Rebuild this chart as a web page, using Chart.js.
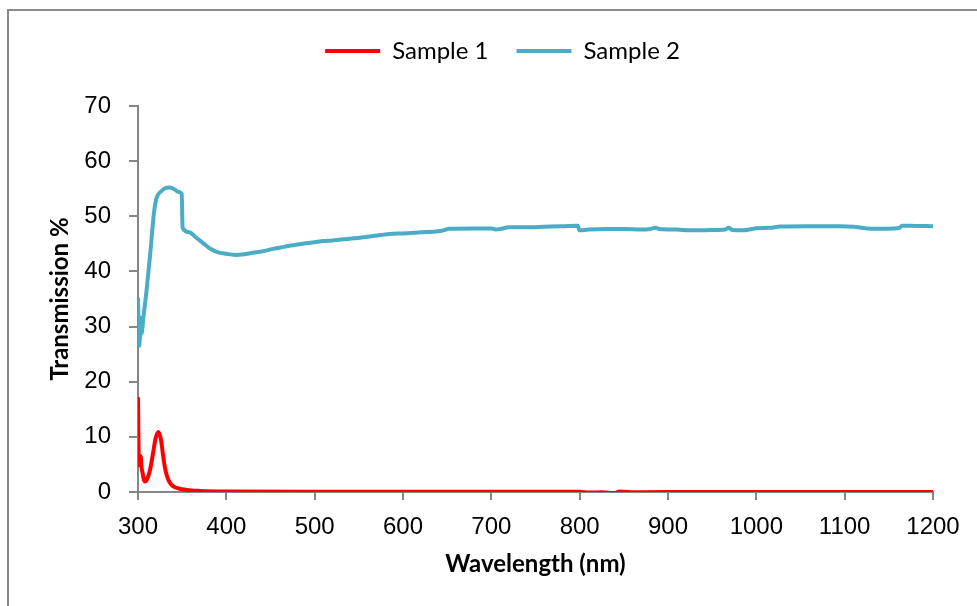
<!DOCTYPE html>
<html>
<head>
<meta charset="utf-8">
<script src="https://cdn.jsdelivr.net/npm/chart.js@4/dist/chart.umd.min.js"></script>
<style>
  body { margin: 0; background: #fff; }
  canvas { display: block; }
</style>
</head>
<body>
<canvas id="spectrumChart" width="977" height="606"></canvas>
<script>
// values (wavelength in nm, transmission in %)
var sample1Wavelength = [300, 300.5, 301, 302, 303, 304, 305.3, 306.5, 308, 310,
  313.6, 317, 320, 323, 326, 328.6, 331, 334.3, 338, 342,
  348, 355, 370, 400, 500, 600, 700, 800, 810, 825,
  840, 845, 860, 900, 1000, 1100, 1200];
var sample1Transmission = [17.2, 10, 4.9, 5.2, 6.5, 4.5, 3.4, 2.3, 1.9, 2.2,
  4.0, 7.0, 9.8, 10.9, 9.5, 6.4, 4.0, 2.2, 1.3, 0.85,
  0.55, 0.36, 0.2, 0.1, 0.05, 0.05, 0.05, 0.05, -0.1, -0.05,
  -0.2, 0.1, -0.05, 0, 0, 0, 0];

var sample2Wavelength = [300, 300.7, 301.5, 302.5, 303, 304, 306, 310, 314, 318,
  321, 326, 331, 336, 341, 346, 349.5, 350.5, 358, 366,
  374, 382, 390, 400, 410, 420, 430, 440, 450, 460,
  470, 480, 490, 500, 510, 520, 530, 545, 560, 575,
  585, 600, 620, 640, 647, 652, 680, 700, 705, 710,
  720, 740, 760, 780, 798, 799.5, 810, 830, 850, 870,
  880, 886, 890, 910, 925, 950, 965, 969, 973, 985,
  995, 1000, 1015, 1027, 1060, 1095, 1110, 1125, 1140, 1155,
  1162, 1165, 1180, 1200];
var sample2Transmission = [35.2, 30, 26.5, 29.5, 31.6, 28.7, 31.5, 37, 43.5, 50.5,
  53.3, 54.5, 55.1, 55.2, 54.9, 54.4, 54.0, 47.9, 47.1, 46.1,
  45.1, 44.1, 43.5, 43.2, 43.0, 43.1, 43.4, 43.6, 44.0, 44.3,
  44.6, 44.9, 45.1, 45.3, 45.5, 45.6, 45.8, 46.0, 46.3, 46.6,
  46.8, 46.9, 47.1, 47.3, 47.5, 47.75, 47.8, 47.8, 47.6, 47.7,
  48.0, 48.0, 48.1, 48.2, 48.3, 47.45, 47.6, 47.7, 47.7, 47.6,
  47.7, 47.9, 47.7, 47.6, 47.45, 47.5, 47.6, 47.9, 47.5, 47.45,
  47.7, 47.85, 47.9, 48.15, 48.2, 48.2, 48.1, 47.8, 47.75, 47.8,
  47.9, 48.3, 48.25, 48.2];

var seriesNames = ['Sample 1', 'Sample 2'];
var xTicks = [300, 400, 500, 600, 700, 800, 900, 1000, 1100, 1200];
var yTicks = [0, 10, 20, 30, 40, 50, 60, 70];

function toPoints(xs, ys) {
  return xs.map(function (x, i) { return { x: x, y: ys[i] }; });
}

var axisGrey = '#868686';

// white page and the grey frame round the chart
var framePlugin = {
  id: 'frame',
  beforeDraw: function (chart) {
    var ctx = chart.ctx;
    ctx.save();
    ctx.fillStyle = '#fff';
    ctx.fillRect(0, 0, chart.width, chart.height);
    ctx.strokeStyle = '#8a8a8a';
    ctx.lineWidth = 2;
    ctx.strokeRect(8, 10, chart.width + 20, chart.height + 20);
    ctx.restore();
  }
};

// more room under the legend, and the legend a little right of centre
var legendTweak = {
  id: 'legendTweak',
  beforeLayout: function (chart) {
    var lg = chart.legend;
    if (lg && !lg._tweaked) {
      var fit = lg.fit;
      lg.fit = function () {
        fit.call(this);
        this.height += 33;
      };
      lg._tweaked = true;
    }
  },
  afterLayout: function (chart) {
    chart.legend.left += 36;
    chart.legend.right += 36;
  }
};

var data = {
  datasets: [{
    label: seriesNames[0],
    data: toPoints(sample1Wavelength, sample1Transmission),
    borderColor: '#ff0000',
    backgroundColor: '#ff0000',
    borderWidth: 4,
    pointRadius: 0,
    cubicInterpolationMode: 'monotone'
  }, {
    label: seriesNames[1],
    data: toPoints(sample2Wavelength, sample2Transmission),
    borderColor: '#4bacc6',
    backgroundColor: '#4bacc6',
    borderWidth: 4,
    pointRadius: 0,
    cubicInterpolationMode: 'monotone'
  }]
};

var options = {
  responsive: false,
  animation: false,
  layout: { padding: { top: 11, left: 0, right: 44, bottom: 0 } },
  plugins: {
    tooltip: { enabled: false },
    legend: {
      position: 'top',
      labels: {
        boxWidth: 55,
        boxHeight: 4,
        padding: 28,
        color: '#000',
        font: { family: 'Lato', size: 24 },
        generateLabels: function (chart) {
          var items = Chart.defaults.plugins.legend.labels.generateLabels(chart);
          items.forEach(function (it) { it.lineWidth = 0; });
          return items;
        }
      }
    }
  },
  scales: {
    x: {
      type: 'linear',
      min: 300,
      max: 1200,
      afterBuildTicks: function (scale) {
        scale.ticks = xTicks.map(function (v) { return { value: v }; });
      },
      afterFit: function (scale) { scale.height = 114; },
      grid: { drawOnChartArea: false, color: axisGrey, tickLength: 8, lineWidth: 2 },
      border: { color: axisGrey, width: 2 },
      ticks: {
        color: '#000',
        padding: 13,
        maxRotation: 0,
        font: { family: 'Liberation Sans', size: 24 },
        callback: function (v) { return String(v); }
      },
      title: {
        display: true,
        text: 'Wavelength (nm)',
        color: '#000',
        font: { family: 'Lato', size: 24, weight: 'bold' },
        padding: { top: 0, bottom: 27 }
      }
    },
    y: {
      min: 0,
      max: 70,
      afterBuildTicks: function (scale) {
        scale.ticks = yTicks.map(function (v) { return { value: v }; });
      },
      afterFit: function (scale) { scale.width = 138; },
      grid: { drawOnChartArea: false, color: axisGrey, tickLength: 9, lineWidth: 2 },
      border: { color: axisGrey, width: 2 },
      ticks: {
        color: '#000',
        padding: 18,
        font: { family: 'Liberation Sans', size: 24 },
        callback: function (v) { return String(v); }
      },
      title: {
        display: true,
        text: 'Transmission %',
        color: '#000',
        font: { family: 'Lato', size: 24, weight: 'bold' },
        padding: { top: 46, bottom: 0 }
      }
    }
  }
};

var ctx = document.getElementById('spectrumChart').getContext('2d');
var spectrumChart = new Chart(ctx, {
  type: 'line',
  data: data,
  options: options,
  plugins: [framePlugin, legendTweak]
});
</script>
</body>
</html>
